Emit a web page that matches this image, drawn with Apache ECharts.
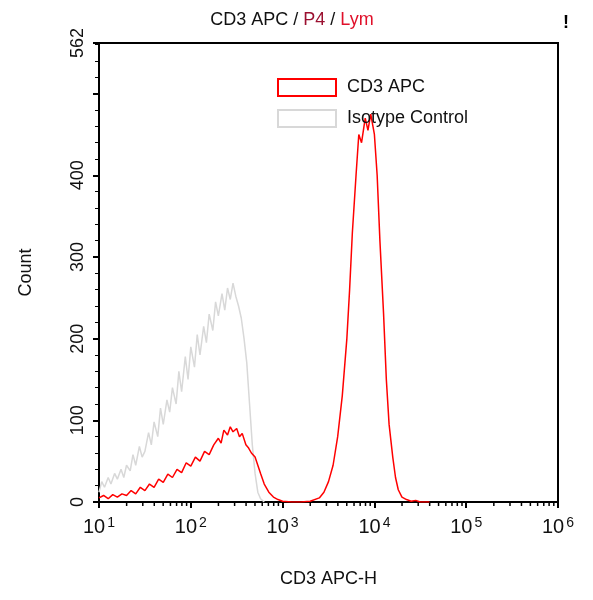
<!DOCTYPE html><html><head><meta charset="utf-8"><script src="https://cdn.jsdelivr.net/npm/echarts@6/dist/echarts.min.js"></script>
<style>body{margin:0}#c{width:593px;height:600px}</style></head><body><div id="c"></div><script>
const isoX=[1.0,1.03,1.06,1.1,1.13,1.17,1.2,1.24,1.27,1.3,1.34,1.37,1.4,1.44,1.47,1.5,1.54,1.57,1.6,1.64,1.67,1.7,1.74,1.77,1.8,1.84,1.87,1.9,1.94,1.97,2.0,2.04,2.07,2.1,2.14,2.17,2.2,2.24,2.27,2.3,2.34,2.37,2.4,2.43,2.46,2.49,2.52,2.55,2.58,2.61,2.64,2.67,2.7,2.73,2.76,2.8];
const isoY=[12,25,18,30,22,35,28,40,30,45,38,58,45,68,55,62,85,70,98,80,115,95,125,110,140,120,160,135,178,150,190,165,205,180,215,195,230,210,245,228,255,235,262,248,268,252,240,225,200,170,120,70,35,12,4,0];
const redX=[1.0,1.05,1.1,1.15,1.2,1.25,1.3,1.35,1.4,1.45,1.5,1.55,1.6,1.65,1.7,1.75,1.8,1.85,1.9,1.95,2.0,2.05,2.1,2.15,2.2,2.25,2.3,2.33,2.36,2.4,2.43,2.46,2.5,2.53,2.56,2.6,2.63,2.66,2.7,2.73,2.76,2.8,2.85,2.9,2.95,3.0,3.1,3.2,3.3,3.4,3.45,3.5,3.55,3.6,3.65,3.7,3.73,3.76,3.8,3.83,3.86,3.9,3.93,3.96,4.0,4.03,4.06,4.1,4.13,4.16,4.2,4.23,4.26,4.3,4.35,4.4,4.45,4.5,4.6];
const redY=[5,8,4,9,6,10,8,14,10,18,14,22,18,28,24,34,30,40,36,48,44,55,50,62,58,70,78,72,88,82,92,86,90,80,84,70,66,60,55,45,35,22,12,6,3,1,0,0,1,5,12,25,45,80,130,200,260,330,400,450,440,470,455,475,450,400,320,230,150,95,55,30,15,6,3,1,2,0,0];
const yTicks=[0,100,200,300,400];
const minorLog=[];for(let d=1;d<6;d++)for(let k=2;k<10;k++)minorLog.push(d+Math.log10(k));
const c=echarts.init(document.getElementById('c'));
const tf={fontFamily:'Arial',fontSize:18,fontWeight:'normal'};
c.setOption({
 animation:false,
 title:{text:'{a|CD3 APC / }{b|P4}{a| / }{c|Lym}',left:287,top:6,textAlign:'center',textStyle:{fontWeight:'normal',rich:{a:{...tf,color:'#111'},b:{...tf,color:'#9b1030'},c:{...tf,color:'#e0102a'}}}},
 graphic:[{type:'text',left:563,top:14,style:{text:'!',font:'bold 18px Arial',fill:'#000'}}],
 legend:{orient:'vertical',left:272,top:73,itemWidth:58,itemHeight:17,itemGap:12,icon:'rect',textStyle:{fontFamily:'Arial',fontSize:18,color:'#111',padding:[0,0,0,6]},
  data:[{name:'CD3 APC',itemStyle:{color:'#fff',borderColor:'#ff0000',borderWidth:2}},{name:'Isotype Control',itemStyle:{color:'#fff',borderColor:'#d8d8d8',borderWidth:2}}]},
 grid:{left:99,right:35,top:43,bottom:98,show:true,borderColor:'#000',borderWidth:2},
 xAxis:{type:'value',min:1,max:6,interval:1,name:'CD3 APC-H',nameLocation:'middle',nameGap:68,nameTextStyle:{fontFamily:'Arial',fontSize:18,color:'#111'},
  axisLine:{lineStyle:{color:'#000',width:2}},axisTick:{length:6,inside:false,lineStyle:{color:'#000',width:2}},splitLine:{show:false},
  axisLabel:{margin:14,formatter:v=>'{b|10}{s|'+Math.round(v)+'}',rich:{b:{fontFamily:'Arial',fontSize:20,color:'#111'},s:{fontFamily:'Arial',fontSize:14,color:'#111',verticalAlign:'top',padding:[0,0,8,2]}}}},
 yAxis:{type:'value',min:0,max:562,interval:100,name:'Count',nameLocation:'middle',nameGap:64,nameRotate:90,nameTextStyle:{fontFamily:'Arial',fontSize:18,color:'#111'},
  axisLine:{lineStyle:{color:'#000',width:2}},axisTick:{length:6,lineStyle:{color:'#000',width:2}},minorTick:{show:true,splitNumber:5,length:4,lineStyle:{color:'#000'}},splitLine:{show:false},
  axisLabel:{rotate:90,margin:12,fontFamily:'Arial',fontSize:18,color:'#111',showMaxLabel:true,formatter:v=>(yTicks.includes(v)||v===562)?String(v):''}},
 series:[
  {name:'Isotype Control',type:'line',data:isoX.map((x,i)=>[x,isoY[i]]),symbol:'none',lineStyle:{color:'#d8d8d8',width:1.5},itemStyle:{color:'#d8d8d8'},z:2},
  {name:'CD3 APC',type:'line',data:redX.map((x,i)=>[x,redY[i]]),symbol:'none',lineStyle:{color:'#ff0000',width:1.5},itemStyle:{color:'#ff0000'},z:3},
  {type:'custom',silent:true,data:minorLog.map(v=>[v]),renderItem:(p,api)=>{const pt=api.coord([api.value(0),0]);return{type:'line',shape:{x1:pt[0],y1:pt[1],x2:pt[0],y2:pt[1]+4},style:{stroke:'#000',lineWidth:1.5}};}}
 ]
});
</script></body></html>
